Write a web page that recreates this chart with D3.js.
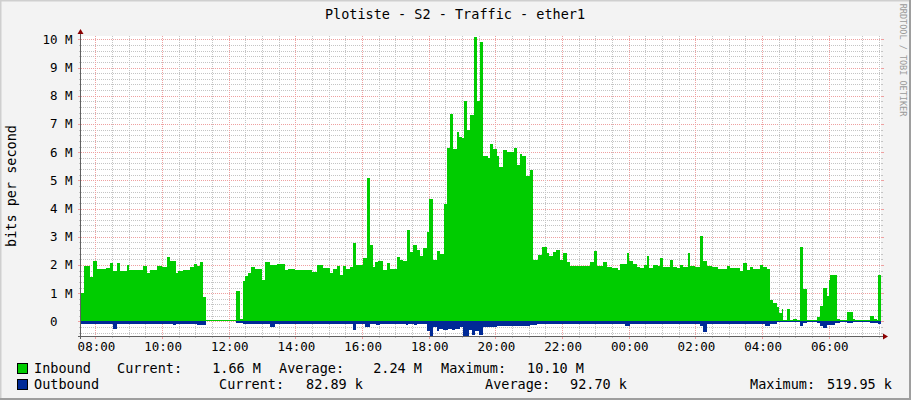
<!DOCTYPE html>
<html>
<head>
<meta charset="utf-8">
<script src="https://cdn.jsdelivr.net/npm/d3@7"></script>
<style>
  html, body { margin: 0; padding: 0; background: #f3f3f3; }
  svg { display: block; }
  text { font-family: "DejaVu Sans Mono", monospace; fill: #000; }
</style>
</head>
<body>
<div id="chart"></div>
<script>
const title = "Plotiste - S2 - Traffic - ether1"
const yLabel = "bits per second"
const watermark = "RRDTOOL / TOBI OETIKER"

// graph covers 24h starting 07:34
const startTime = new Date(2021, 0, 1, 7, 34)
const spanMinutes = 1440

// [minutes after start, Mbit/s] - each value holds until the next sample
const inbound = [[0,1.0],[5,1.95],[17,1.58],[22,2.14],[28,1.84],[45,1.9],[52,2.06],[58,1.8],[64,2.06],[70,1.8],[82,2.0],[87,1.82],[112,1.98],[118,1.7],[124,1.82],[136,1.98],[145,1.94],[154,2.27],[160,2.13],[171,1.73],[175,1.8],[184,1.82],[196,1.94],[203,2.03],[209,1.96],[215,2.1],[220,0.85],[225,0],
  [279,1.06],[286,0.09],[291,1.42],[296,1.6],[301,1.72],[306,1.92],[313,1.84],[325,1.47],[331,2.1],[340,2.0],[352,2.03],[367,1.82],[373,1.87],[385,1.82],[415,1.76],[424,2.0],[436,1.88],[448,1.7],[454,1.84],[460,1.98],[466,1.64],[471,1.96],[477,1.84],[484,1.94],[490,2.77],[495,2.0],[508,2.23],[514,5.07],[520,2.7],[525,1.94],[529,2.12],[535,2.15],[544,1.82],[550,2.06],[556,1.87],[568,2.29],[574,2.17],[580,2.14],[587,3.24],[592,2.47],[598,2.71],[604,2.53],[610,2.31],[616,2.59],[623,3.18],[627,4.33],[633,2.17],[640,2.49],[646,2.39],
  [653,4.16],[659,6.13],[665,7.37],[669,6.1],[676,6.72],[680,6.55],[686,6.52],[689,7.8],[694,6.78],[701,7.32],[707,10.1],[713,7.82],[719,9.9],[724,5.86],[733,5.8],[737,6.29],[742,6.12],[748,5.86],[753,5.46],[760,6.07],[767,6.0],[779,6.14],[784,5.54],[790,5.93],[793,5.88],[801,5.17],[808,5.36],
  [814,2.17],[823,2.36],[829,2.62],[838,2.43],[843,2.33],[849,2.46],[855,2.53],[862,2.17],[868,2.41],[874,2.11],[880,1.96],[916,2.11],[923,2.48],[928,1.96],[940,2.1],[946,1.94],[955,1.88],[967,1.82],[971,2.03],[982,2.41],[987,2.15],[993,2.03],[1000,1.91],[1006,1.88],[1013,2.01],[1019,2.32],[1023,1.88],[1030,2.0],[1039,1.96],[1043,2.26],[1047,1.94],[1053,1.91],[1060,2.17],[1065,1.94],[1072,1.88],[1078,2.0],[1084,1.91],[1093,2.41],[1097,1.96],[1105,1.94],[1115,3.03],[1120,2.14],[1126,1.96],[1135,1.91],[1147,1.84],[1162,1.96],[1168,1.88],[1186,1.8],[1192,2.06],[1198,1.82],[1204,1.94],[1210,1.84],[1222,2.01],[1228,1.91],[1235,1.84],
  [1240,0.76],[1245,0.66],[1252,0.5],[1256,0.28],[1261,0.45],[1264,0.02],[1271,0.45],[1276,0.02],[1282,0.1],[1288,0.05],[1295,2.65],[1299,1.15],[1306,0.02],[1325,0.14],[1330,0.54],[1336,1.18],[1342,0.9],[1346,1.47],[1349,1.63],[1361,0.07],[1366,0.02],[1378,0.33],[1389,0.07],[1393,0.02],[1420,0.19],[1427,0.1],[1433,0.02],[1435,1.64]]

const outbound = [[0,0.09],[52,0.1],[58,0.26],[64,0.09],[166,0.13],[171,0.09],[208,0.13],[225,0],[279,0.05],[286,0.07],[291,0.09],[340,0.21],[349,0.08],[490,0.29],[495,0.09],[511,0.19],[520,0.1],[531,0.14],[538,0.08],[585,0.14],[589,0.1],[599,0.14],[605,0.1],
  [623,0.35],[628,0.52],[634,0.21],[640,0.33],[645,0.26],[652,0.31],[661,0.26],[667,0.31],[673,0.26],[682,0.21],[688,0.52],[698,0.31],[703,0.47],[709,0.33],[717,0.47],[724,0.19],[748,0.17],[808,0.14],[820,0.11],[980,0.15],[989,0.11],[1114,0.15],[1120,0.37],[1126,0.09],[1231,0.15],[1240,0.08],[1252,0.04],[1295,0.15],[1299,0.06],[1306,0.02],[1325,0.06],[1330,0.15],[1336,0.22],[1342,0.12],[1358,0.06],[1366,0.02],[1378,0.05],[1389,0.02],[1420,0.06],[1435,0.08]]

const yTicks = [0, 1, 2, 3, 4, 5, 6, 7, 8, 9, 10]
const seriesNames = ["Inbound", "Outbound"]
const seriesColors = ["#00cc00", "#002a97"]
const currentValues = ["1.66 M", "82.89 k"]
const averageValues = ["2.24 M", "92.70 k"]
const maximumValues = ["10.10 M", "519.95 k"]

const W = 911, H = 400
const plotLeft = 81, plotRight = 881, plotTop = 36, plotBottom = 336

const svg = d3.select("#chart").append("svg")
  .attr("width", W).attr("height", H)

// background + 3d border
svg.append("rect").attr("width", W).attr("height", H).attr("fill", "#f3f3f3")
svg.append("path").attr("d", `M0,0.5H${W}M0.5,0V${H}`).attr("stroke", "#cfcfcf").attr("stroke-width", 2)
svg.append("path").attr("d", `M0,${H - 1}H${W}M${W - 1},0V${H}`).attr("stroke", "#9e9e9e").attr("stroke-width", 2)

const endTime = d3.timeMinute.offset(startTime, spanMinutes)
const x = d3.scaleTime().domain([startTime, endTime]).range([plotLeft, plotRight])
const y = d3.scaleLinear().domain([-0.52, 10.12]).range([plotBottom, plotTop])

svg.append("rect").attr("x", plotLeft).attr("y", plotTop)
  .attr("width", plotRight - plotLeft).attr("height", plotBottom - plotTop).attr("fill", "#fff")

const grid = svg.append("g").attr("shape-rendering", "crispEdges")
const minorColor = "#c4c4c4", majorColor = "#eea0a0"

// horizontal grid
const minorY = d3.range(-2, 51).map(i => i / 5).filter(v => Math.abs(v - Math.round(v)) > 1e-6)
minorY.forEach(v => {
  const yy = Math.round(y(v)) + 0.5
  grid.append("line").attr("x1", plotLeft).attr("x2", plotRight).attr("y1", yy).attr("y2", yy)
    .attr("stroke", minorColor).attr("stroke-dasharray", "1,1")
  grid.append("path").attr("d", `M${plotLeft - 2},${yy}H${plotLeft}M${plotRight},${yy}H${plotRight + 2}`).attr("stroke", minorColor)
})
yTicks.forEach(v => {
  const yy = Math.round(y(v)) + 0.5
  grid.append("line").attr("x1", plotLeft).attr("x2", plotRight).attr("y1", yy).attr("y2", yy)
    .attr("stroke", majorColor).attr("stroke-dasharray", "1,1")
  grid.append("path").attr("d", `M${plotLeft - 3},${yy}H${plotLeft}M${plotRight},${yy}H${plotRight + 3}`).attr("stroke", majorColor)
})

// vertical grid
const minorT = d3.timeMinute.every(30).range(startTime, endTime).filter(t => t.getMinutes() !== 0 || t.getHours() % 2)
const majorT = d3.timeHour.every(2).range(startTime, endTime)
minorT.forEach(t => {
  const xx = Math.round(x(t)) + 0.5
  grid.append("line").attr("x1", xx).attr("x2", xx).attr("y1", plotTop).attr("y2", plotBottom)
    .attr("stroke", minorColor).attr("stroke-dasharray", "1,1")
  grid.append("line").attr("x1", xx).attr("x2", xx).attr("y1", plotBottom).attr("y2", plotBottom + 2).attr("stroke", minorColor)
})
majorT.forEach(t => {
  const xx = Math.round(x(t)) + 0.5
  grid.append("line").attr("x1", xx).attr("x2", xx).attr("y1", plotTop).attr("y2", plotBottom)
    .attr("stroke", majorColor).attr("stroke-dasharray", "1,1")
  grid.append("line").attr("x1", xx).attr("x2", xx).attr("y1", plotBottom).attr("y2", plotBottom + 3).attr("stroke", majorColor)
})

// data: one pixel-snapped column per sample, like rrdtool's step areas
function columns(series) {
  return series.map((d, i) => ({
    t0: d3.timeMinute.offset(startTime, d[0]),
    t1: d3.timeMinute.offset(startTime, i + 1 < series.length ? series[i + 1][0] : spanMinutes),
    v: d[1]
  }))
}
const y0 = Math.round(y(0))
const px = t => Math.round(x(t))

const plot = svg.append("g").attr("shape-rendering", "crispEdges")
// inbound line at zero shows through where there's no traffic
plot.append("line").attr("x1", plotLeft).attr("x2", plotRight).attr("y1", y0 - 0.5).attr("y2", y0 - 0.5)
  .attr("stroke", seriesColors[0])
plot.append("g").selectAll("rect").data(columns(inbound)).join("rect")
  .attr("x", d => px(d.t0)).attr("width", d => px(d.t1) - px(d.t0))
  .attr("y", d => Math.round(y(d.v))).attr("height", d => y0 - Math.round(y(d.v)))
  .attr("fill", seriesColors[0])
plot.append("g").selectAll("rect").data(columns(outbound)).join("rect")
  .attr("x", d => px(d.t0)).attr("width", d => px(d.t1) - px(d.t0))
  .attr("y", y0).attr("height", d => Math.round(y(-d.v)) - y0)
  .attr("fill", seriesColors[1])

// axes
const axisColor = "#606060", arrowColor = "#8b0000"
svg.append("line").attr("x1", plotLeft - 0.5).attr("x2", plotLeft - 0.5).attr("y1", plotBottom + 3).attr("y2", plotTop - 4)
  .attr("stroke", axisColor).attr("shape-rendering", "crispEdges")
svg.append("line").attr("x1", plotLeft - 3).attr("x2", plotRight + 3).attr("y1", plotBottom + 0.5).attr("y2", plotBottom + 0.5)
  .attr("stroke", axisColor).attr("shape-rendering", "crispEdges")
svg.append("path").attr("d", `M${plotLeft - 3.5},${plotTop - 2}L${plotLeft + 2.5},${plotTop - 2}L${plotLeft - 0.5},${plotTop - 7}Z`).attr("fill", arrowColor)
svg.append("path").attr("d", `M${plotRight + 2},${plotBottom - 2.5}L${plotRight + 2},${plotBottom + 3.5}L${plotRight + 7},${plotBottom + 0.5}Z`).attr("fill", arrowColor)

// tick labels
const axisFont = 12.5
svg.append("g").selectAll("text").data(yTicks).join("text")
  .attr("x", d => d === 0 ? 72.5 - 2 * 0.602 * axisFont : 72.5)
  .attr("y", d => y(d) + 4.5)
  .attr("text-anchor", "end").attr("font-size", axisFont)
  .text(d => d === 0 ? "0" : d + " M")

svg.append("g").selectAll("text").data(majorT).join("text")
  .attr("x", d => x(d) + 1).attr("y", 351)
  .attr("text-anchor", "middle").attr("font-size", axisFont)
  .text(d3.timeFormat("%H:%M"))

// titles
svg.append("text").attr("x", 455).attr("y", 19).attr("text-anchor", "middle")
  .attr("font-size", 13.5).text(title)
svg.append("text").attr("transform", "translate(16,186) rotate(-90)").attr("text-anchor", "middle")
  .attr("font-size", 13.5).text(yLabel)
svg.append("text").attr("transform", "translate(899.5,60) rotate(90)").attr("text-anchor", "middle")
  .attr("font-size", 8.5).style("fill", "#999").text(watermark)

// legend
const legendFont = 13.5
const rows = [
  { y: 373, name: 34, cur: 117, curEnd: 261, avg: 279, avgEnd: 422, max: 441, maxEnd: 584 },
  { y: 389, name: 34, cur: 219, curEnd: 363, avg: 485, avgEnd: 627, max: 750, maxEnd: 892 }
]
rows.forEach((r, i) => {
  const g = svg.append("g").attr("font-size", legendFont)
  g.append("rect").attr("x", 17.5).attr("y", r.y - 9.5).attr("width", 10).attr("height", 10)
    .attr("fill", seriesColors[i]).attr("stroke", "#000").attr("shape-rendering", "crispEdges")
  g.append("text").attr("x", r.name).attr("y", r.y).text(seriesNames[i])
  g.append("text").attr("x", r.cur).attr("y", r.y).text("Current:")
  g.append("text").attr("x", r.curEnd).attr("y", r.y).attr("text-anchor", "end").text(currentValues[i])
  g.append("text").attr("x", r.avg).attr("y", r.y).text("Average:")
  g.append("text").attr("x", r.avgEnd).attr("y", r.y).attr("text-anchor", "end").text(averageValues[i])
  g.append("text").attr("x", r.max).attr("y", r.y).text("Maximum:")
  g.append("text").attr("x", r.maxEnd).attr("y", r.y).attr("text-anchor", "end").text(maximumValues[i])
})
</script>
</body>
</html>
